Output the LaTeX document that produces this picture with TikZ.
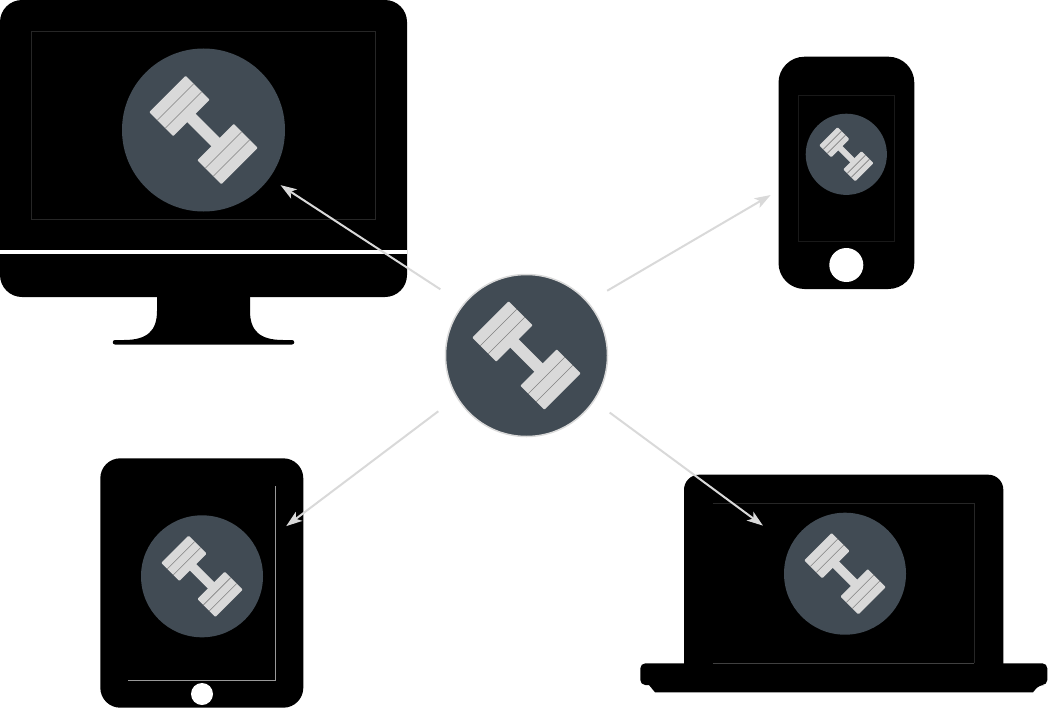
\documentclass[tikz,border=0pt]{standalone}
\usepackage{xcolor}
\usepackage{tikz}
\usetikzlibrary{arrows.meta}

\definecolor{slate}{HTML}{414B54}
\definecolor{steel}{HTML}{D9D9D9}

\tikzset{
    badge/.style={circle, fill=slate, inner sep=0pt},
    flow/.style={draw=steel, line width=2pt, -{Stealth[length=16pt, width=11pt, inset=4pt]}},
    glass/.style={line width=0.8pt},
    dumbbell/.pic={
        \fill[steel] (-18,-6) rectangle (18,6);
        \fill[steel, rounded corners=1pt] (17,-25.8) rectangle (51,25.8);
        \fill[steel, rounded corners=1pt] (-17,-25.8) rectangle (-51,25.8);
        \draw[gray, line width=0.6pt] (28.3,-25.8) -- (28.3,25.8);
        \draw[gray, line width=0.6pt] (39.6,-25.8) -- (39.6,25.8);
        \draw[gray, line width=0.6pt] (-28.3,-25.8) -- (-28.3,25.8);
        \draw[gray, line width=0.6pt] (-39.6,-25.8) -- (-39.6,25.8);
    }
}

\begin{document}
\begin{tikzpicture}[x=1pt, y=-1pt]
    \useasboundingbox (0,0) rectangle (1048,709);

    % monitor
    \fill[black, rounded corners=22pt] (0,0) rectangle (407,297);
    \fill[white] (0,250.3) rectangle (407,254);
    \draw[glass, draw=black!85] (31,31) rectangle (375,219);
    \fill[black] (157,296) -- (157,311) .. controls (157,331) and (147,340) .. (124,340)
        -- (115,340) .. controls (112,340) and (112,344.5) .. (115,344.5)
        -- (292,344.5) .. controls (295,344.5) and (295,340) .. (292,340)
        -- (283,340) .. controls (260,340) and (250,331) .. (250,311) -- (250,296) -- cycle;

    % phone
    \fill[black, rounded corners=26pt] (778.5,56.7) rectangle (914.3,289);
    \draw[glass, draw=black!90] (798.3,95) rectangle (894.7,241.3);
    \node (phonebutton) [circle, fill=white, inner sep=0pt, minimum size=34pt] at (846.3,265) {};

    % tablet
    \fill[black, rounded corners=20pt] (100.3,458.3) rectangle (303.3,707.7);
    \draw[glass, draw=black!40] (275.3,486) -- (275.3,680) -- (128,680);
    \node (tabletbutton) [circle, fill=white, inner sep=0pt, minimum size=22pt] at (202,694) {};

    % laptop
    \fill[black, rounded corners=15pt] (684,664) -- (684,474.7) -- (1003.3,474.7) -- (1003.3,664);
    \draw[glass, draw=black!85] (712.7,503.3) -- (974.3,503.3) -- (974.3,663.3);
    \fill[black, rounded corners=5pt] (640.3,663.3) -- (1047.3,663.3) -- (1047.3,685) -- (1039,685)
        [sharp corners] -- (1033,692.3) -- (655,692.3) -- (649,685)
        [rounded corners=5pt] -- (640.3,685) -- cycle;
    \draw[glass, draw=black!75] (712.7,663.3) -- (974.3,663.3);

    % badges
    \node (hub) [badge, draw=steel, line width=1.5pt, minimum size=162pt] at (526.5,355.5) {};
    \node (monitor) [badge, minimum size=163pt] at (203.5,130) {};
    \node (phone) [badge, minimum size=81.2pt] at (846.3,154.3) {};
    \node (tablet) [badge, minimum size=122pt] at (202,576.3) {};
    \node (laptop) [badge, minimum size=122pt] at (845,573.7) {};

    \pic[rotate=-45] at (hub) {dumbbell};
    \pic[rotate=-45] at (monitor) {dumbbell};
    \pic[rotate=-45, scale=0.5] at (phone) {dumbbell};
    \pic[rotate=-45, scale=0.75] at (tablet) {dumbbell};
    \pic[rotate=-45, scale=0.75] at (laptop) {dumbbell};

    % arrows
    \draw[flow, shorten <=27pt, shorten >=13.1pt] (hub.141.5) -- (monitor.-36.7);
    \draw[flow, shorten <=22pt, shorten >=45.2pt] (hub.41) -- (phone.206.4);
    \draw[flow, shorten <=22.7pt, shorten >=37.2pt] (hub.211.8) -- (tablet.27.4);
    \draw[flow, shorten <=19.1pt, shorten >=34.2pt] (hub.-34.5) -- (laptop.153.3);
\end{tikzpicture}
\end{document}
